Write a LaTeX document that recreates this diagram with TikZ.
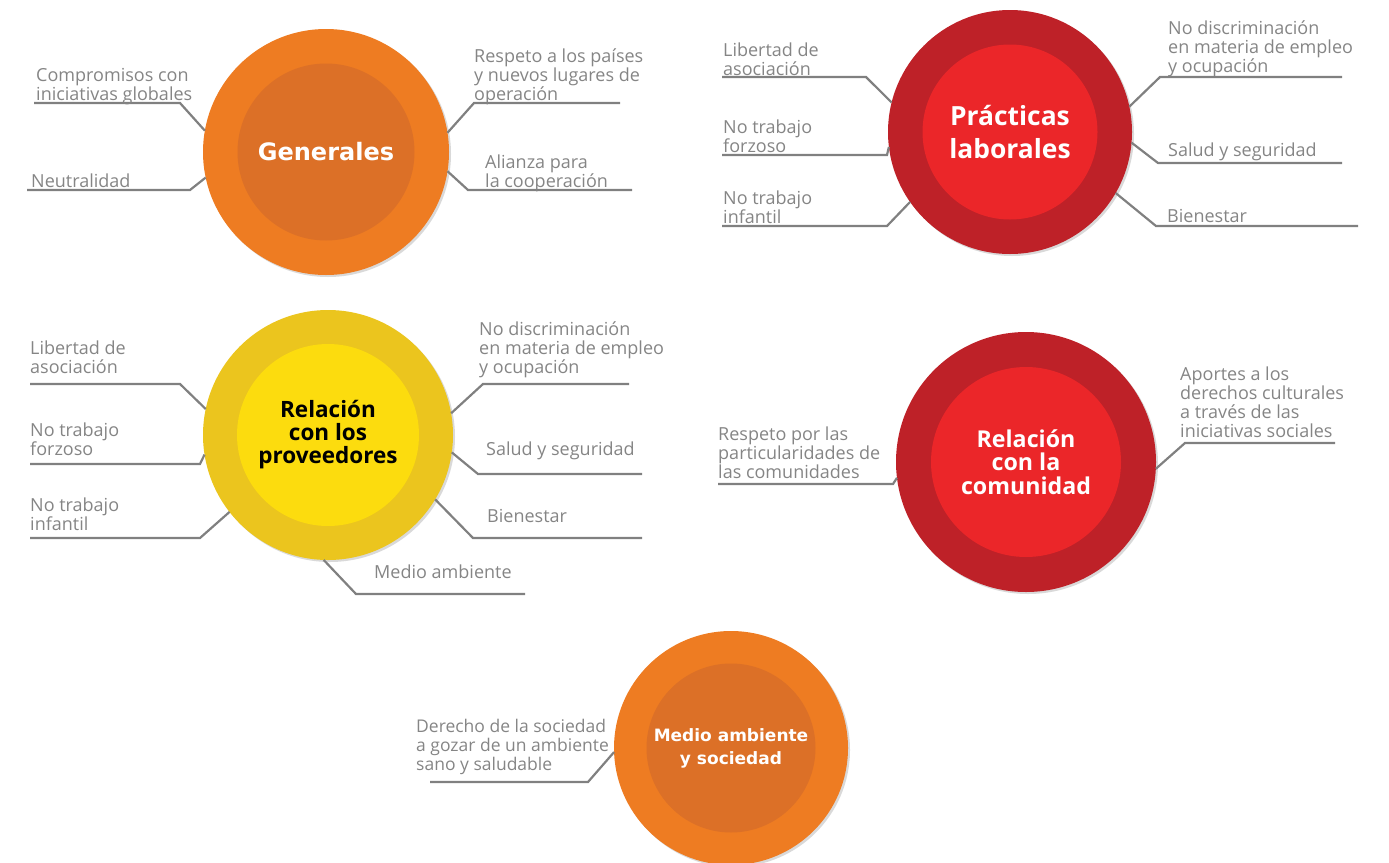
\documentclass[tikz,border=0pt]{standalone}
\usepackage{fontspec}
\setmainfont{Open Sans}
\newfontfamily\roundfont{DejaVu Sans}
\usetikzlibrary{shadows}

\definecolor{orgOut}{HTML}{EE7C22}
\definecolor{orgIn}{HTML}{DC7027}
\definecolor{redOut}{HTML}{BE2128}
\definecolor{redIn}{HTML}{EB2629}
\definecolor{yelOut}{HTML}{EBC51E}
\definecolor{yelIn}{HTML}{FCDC0E}
\definecolor{lnGray}{HTML}{808080}
\definecolor{txGray}{HTML}{858585}

\begin{document}
\begin{tikzpicture}[x=1pt, y=-1pt,
  ring/.style={circle, inner sep=0pt, outer sep=0pt,
    drop shadow={shadow xshift=2pt, shadow yshift=-2pt, opacity=.15, fill=black}},
  core/.style={circle, inner sep=0pt, outer sep=0pt, align=center, text=white},
  lbl/.style={anchor=base west, align=left, inner sep=0pt, text=txGray,
    font=\fontsize{18}{19}\selectfont},
  link/.style={draw=lnGray, line width=2.2pt}]
\useasboundingbox (0,0) rectangle (1389,862);

% circles
\node[ring, fill=orgOut, minimum size=246] (gen) at (326,152) {};
\node[core, fill=orgIn, minimum size=177, font=\roundfont\bfseries\fontsize{24}{28}\selectfont]
  (gen-c) at (gen) {Generales};
\node[ring, fill=redOut, minimum size=244] (lab) at (1010,132) {};
\node[core, fill=redIn, minimum size=175, font=\bfseries\fontsize{26.4}{33}\selectfont]
  (lab-c) at (lab) {Prácticas\\laborales};
\node[ring, fill=yelOut, minimum size=250] (prov) at (328,435) {};
\node[core, fill=yelIn, minimum size=182, text=black, font=\bfseries\fontsize{22.5}{23}\selectfont]
  (prov-c) at (prov) {Relación\\con los\\proveedores};
\node[ring, fill=redOut, minimum size=260] (com) at (1026,462) {};
\node[core, fill=redIn, minimum size=190, font=\bfseries\fontsize{23.2}{23.5}\selectfont]
  (com-c) at (com) {Relación\\con la\\comunidad};
\node[ring, fill=orgOut, minimum size=234] (med) at (731,748) {};
\node[core, fill=orgIn, minimum size=169, font=\roundfont\bfseries\fontsize{17}{23}\selectfont]
  (med-c) at (med) {Medio ambiente\\y sociedad};

% connectors
\foreach \a/\kx/\ky/\ex [count=\i] in {170/180/103/34, 192/190/190/27, 9/474/103/620, 351/468/190/632}{
  \coordinate (gen-k\i) at (\kx,\ky);
  \coordinate (gen-e\i) at (\ex,\ky);
  \draw[link] (gen.\a) -- (gen-k\i) -- (gen-e\i);
}
\foreach \a/\kx/\ky/\ex [count=\i] in {166/866/77/722, 187/887/155/722, 215/887/226/722,
    12/1160/77/1342, 355/1158/163/1342, 330/1156/226/1358}{
  \coordinate (lab-k\i) at (\kx,\ky);
  \coordinate (lab-e\i) at (\ex,\ky);
  \draw[link] (lab.\a) -- (lab-k\i) -- (lab-e\i);
}
\foreach \a/\kx/\ky/\ex [count=\i] in {168/180/384/30, 189/200/464/30, 218/200/538/30,
    10/483/384/629, 352/478/474/642, 329/473/538/642, 268/356/594/525}{
  \coordinate (prov-k\i) at (\kx,\ky);
  \coordinate (prov-e\i) at (\ex,\ky);
  \draw[link] (prov.\a) -- (prov-k\i) -- (prov-e\i);
}
\foreach \a/\kx/\ky/\ex [count=\i] in {187/893/484/718, 357/1185/443/1335}{
  \coordinate (com-k\i) at (\kx,\ky);
  \coordinate (com-e\i) at (\ex,\ky);
  \draw[link] (com.\a) -- (com-k\i) -- (com-e\i);
}
\coordinate (med-k1) at (588,782);
\coordinate (med-e1) at (430,782);
\draw[link] (med.182) -- (med-k1) -- (med-e1);

% labels
\node[lbl] (gen-t1) at (36,100) {Compromisos con\\iniciativas globales};
\node[lbl] (gen-t2) at (31,187) {Neutralidad};
\node[lbl] (gen-t3) at (474,100) {Respeto a los países\\y nuevos lugares de\\operación};
\node[lbl] (gen-t4) at (485,187) {Alianza para\\la cooperación};

\node[lbl] (lab-t1) at (723,75) {Libertad de\\asociación};
\node[lbl] (lab-t2) at (723,152) {No trabajo\\forzoso};
\node[lbl] (lab-t3) at (723,223) {No trabajo\\infantil};
\node[lbl] (lab-t4) at (1168,72) {No discriminación\\en materia de empleo\\y ocupación};
\node[lbl] (lab-t5) at (1168,156) {Salud y seguridad};
\node[lbl] (lab-t6) at (1167,222) {Bienestar};

\node[lbl] (prov-t1) at (30,373) {Libertad de\\asociación};
\node[lbl] (prov-t2) at (30,455) {No trabajo\\forzoso};
\node[lbl] (prov-t3) at (30,530) {No trabajo\\infantil};
\node[lbl] (prov-t4) at (479,373) {No discriminación\\en materia de empleo\\y ocupación};
\node[lbl] (prov-t5) at (486,455) {Salud y seguridad};
\node[lbl] (prov-t6) at (487,522) {Bienestar};
\node[lbl] (prov-t7) at (374,578) {Medio ambiente};

\node[lbl] (com-t1) at (718,478) {Respeto por las\\particularidades de\\las comunidades};
\node[lbl] (com-t2) at (1180,437) {Aportes a los\\derechos culturales\\a través de las\\iniciativas sociales};

\node[lbl, font=\fontsize{17.5}{19}\selectfont] (med-t1) at (416,770)
  {Derecho de la sociedad\\a gozar de un ambiente\\sano y saludable};
\end{tikzpicture}
\end{document}
